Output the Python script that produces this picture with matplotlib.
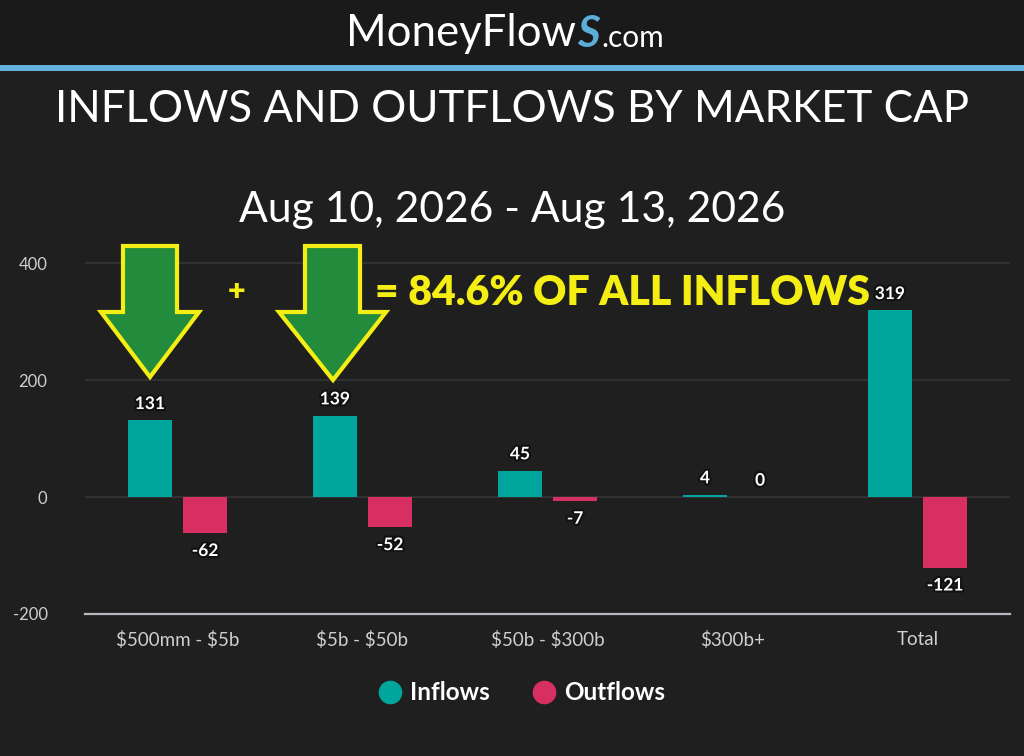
import matplotlib
matplotlib.use("Agg")
import matplotlib.pyplot as plt
import matplotlib.patheffects as pe
from matplotlib.patches import Polygon, Rectangle
from matplotlib.lines import Line2D
import numpy as np

categories = ['$500mm - $5b', '$5b - $50b', '$50b - $300b', '$300b+', 'Total']
inflows = [131, 139, 45, 4, 319]
outflows = [-62, -52, -7, 0, -121]
yticks = [-200, 0, 200, 400]

BG = '#1f1f1f'
TEAL = '#00a59b'
PINK = '#d82f63'
YEL = '#f5ee14'
GREEN = '#228b3c'

W, H = 1024, 756
fig = plt.figure(figsize=(W / 100, H / 100), dpi=100, facecolor=BG)

def fx(x):
    return x / W

def fy(y):
    return 1 - y / H

# header band
fig.patches.append(Rectangle((0, fy(65)), 1, 1 - fy(65), transform=fig.transFigure,
                             facecolor='#1a1a1a', edgecolor='none', zorder=0))
fig.patches.append(Rectangle((0, fy(71)), 1, fy(65) - fy(71), transform=fig.transFigure,
                             facecolor='#62b0de', edgecolor='none', zorder=1))

FONT = ['Lato', 'DejaVu Sans']
fig.text(fx(576), fy(34), 'MoneyFlow', color='white', fontsize=31.5, ha='right', va='center',
         family=FONT)
fig.text(fx(577), fy(34), 'S', color='#5aaed8', fontsize=31.5, ha='left', va='center',
         family=FONT, style='italic', fontweight='bold')
fig.text(fx(601), fy(38), '.com', color='white', fontsize=21.5, ha='left', va='center',
         family=FONT)

fig.text(0.5, fy(110), 'INFLOWS AND OUTFLOWS BY MARKET CAP', color='white', fontsize=31.6,
         ha='center', va='center', family=FONT)
fig.text(0.5, fy(210), 'Aug 10, 2026 - Aug 13, 2026', color='white', fontsize=30.7,
         ha='center', va='center', family=FONT)

# axes
ylo, yhi = -200, 440
px_per_unit = (614 - 497) / 200.0
ax_h = (yhi - ylo) * px_per_unit
ax = fig.add_axes([fx(85), fy(614), fx(1010) - fx(85), ax_h / H])
ax.set_facecolor(BG)
ax.set_xlim(-0.5, len(categories) - 0.5)
ax.set_ylim(ylo, yhi)

x = np.arange(len(categories))
bw = 0.24
off = 0.149
ax.bar(x - off, inflows, bw, color=TEAL, zorder=3)
ax.bar(x + off, outflows, bw, color=PINK, zorder=3)

for s in ['top', 'right', 'left']:
    ax.spines[s].set_visible(False)
ax.spines['bottom'].set_color('#b8b8c0')
ax.spines['bottom'].set_linewidth(1.6)
ax.spines['bottom'].set_position(('data', -200))

ax.set_yticks(yticks)
ax.set_yticklabels([str(v) for v in yticks])
ax.tick_params(axis='y', length=0, colors='#cfcfcf', labelsize=12, pad=27)
ax.set_xticks(x)
ax.set_xticklabels([c.replace('$', r'\$') for c in categories])
ax.tick_params(axis='x', length=0, colors='#cfcfcf', labelsize=13.5, pad=12)
for lab in ax.get_xticklabels() + ax.get_yticklabels():
    lab.set_family(FONT)
for v in [0, 200, 400]:
    ax.axhline(v, color='#353535', lw=1.2, zorder=1)

stroke = [pe.withStroke(linewidth=3, foreground='#111111')]
for i, v in enumerate(inflows):
    ax.annotate(str(v), (x[i] - off, v), xytext=(0, 6), textcoords='offset points',
                ha='center', va='bottom', color='white', fontsize=12.5, fontweight='bold',
                family=FONT, path_effects=stroke, zorder=5)
for i, v in enumerate(outflows):
    if v < 0:
        ax.annotate(str(v), (x[i] + off, v), xytext=(0, -7), textcoords='offset points',
                    ha='center', va='top', color='white', fontsize=12.5, fontweight='bold',
                    family=FONT, path_effects=stroke, zorder=5)
    else:
        ax.annotate(str(v), (x[i] + off, v), xytext=(0, 6), textcoords='offset points',
                    ha='center', va='bottom', color='white', fontsize=12.5, fontweight='bold',
                    family=FONT, path_effects=stroke, zorder=5)

# annotation arrows
def arrow(sl, sr, top, sh, hl, hr, tx, ty):
    pts = [(sl, top), (sr, top), (sr, sh), (hr, sh), (tx, ty), (hl, sh), (sl, sh)]
    pts = [(fx(a), fy(b)) for a, b in pts]
    fig.patches.append(Polygon(pts, closed=True, transform=fig.transFigure,
                               facecolor=GREEN, edgecolor=YEL, linewidth=3,
                               joinstyle='miter', zorder=10))

arrow(123, 177, 246, 312, 101, 199, 150, 377)
arrow(305, 360, 246, 312, 279, 386, 333, 380)

fig.text(fx(237), fy(291), '+', color=YEL, fontsize=22, fontweight='heavy',
         ha='center', va='center', family=FONT, zorder=11)
fig.text(fx(375), fy(293), '= 84.6% OF ALL INFLOWS', color=YEL, fontsize=29.5,
         fontweight='heavy', ha='left', va='center', family=FONT, zorder=11)

# legend
handles = [Line2D([], [], marker='o', ls='none', markersize=16, color=TEAL),
           Line2D([], [], marker='o', ls='none', markersize=16, color=PINK)]
leg = fig.legend(handles, ['Inflows', 'Outflows'], loc='center', bbox_to_anchor=(fx(519), fy(693)),
                 ncol=2, frameon=False, handletextpad=0.15, columnspacing=1.5,
                 handlelength=1.4,
                 prop={'family': FONT, 'weight': 'bold', 'size': 17.5})
for t in leg.get_texts():
    t.set_color('white')

fig.savefig('out.png', dpi=100, facecolor=BG)
